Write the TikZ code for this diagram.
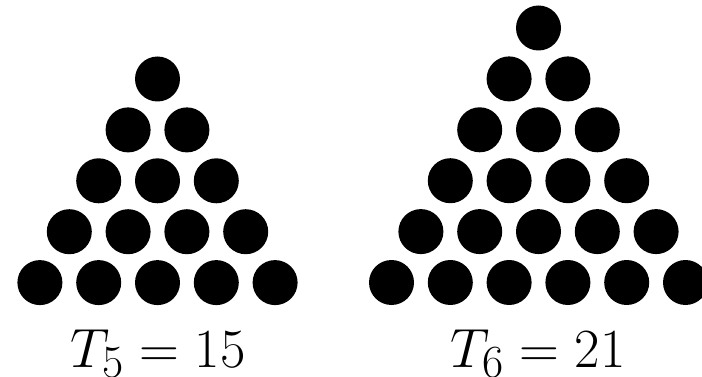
\documentclass[tikz,border=0pt]{standalone}
\begin{document}
\begin{tikzpicture}[x=1pt,y=-1pt,
  dot/.style={circle,fill=black,inner sep=0pt,minimum size=45pt},
  lbl/.style={anchor=base,inner sep=0pt,font=\Huge,scale=2.22,transform shape}]
\useasboundingbox (0,0) rectangle (702,377);
% left triangle T_5
\foreach \r in {0,...,4}{
  \foreach \k in {0,...,\r}{
    \node[dot] (L-\r-\k) at ({157.5+(\k-\r/2)*58.8},{79+\r*50.9}) {};
  }
}
% right triangle T_6
\foreach \r in {0,...,5}{
  \foreach \k in {0,...,\r}{
    \node[dot] (R-\r-\k) at ({538.5+(\k-\r/2)*58.8},{28+\r*50.9}) {};
  }
}
\node[lbl] (t5) at (158,367) {$T_5=15$};
\node[lbl] (t6) at (538,367) {$T_6=21$};
\end{tikzpicture}
\end{document}
